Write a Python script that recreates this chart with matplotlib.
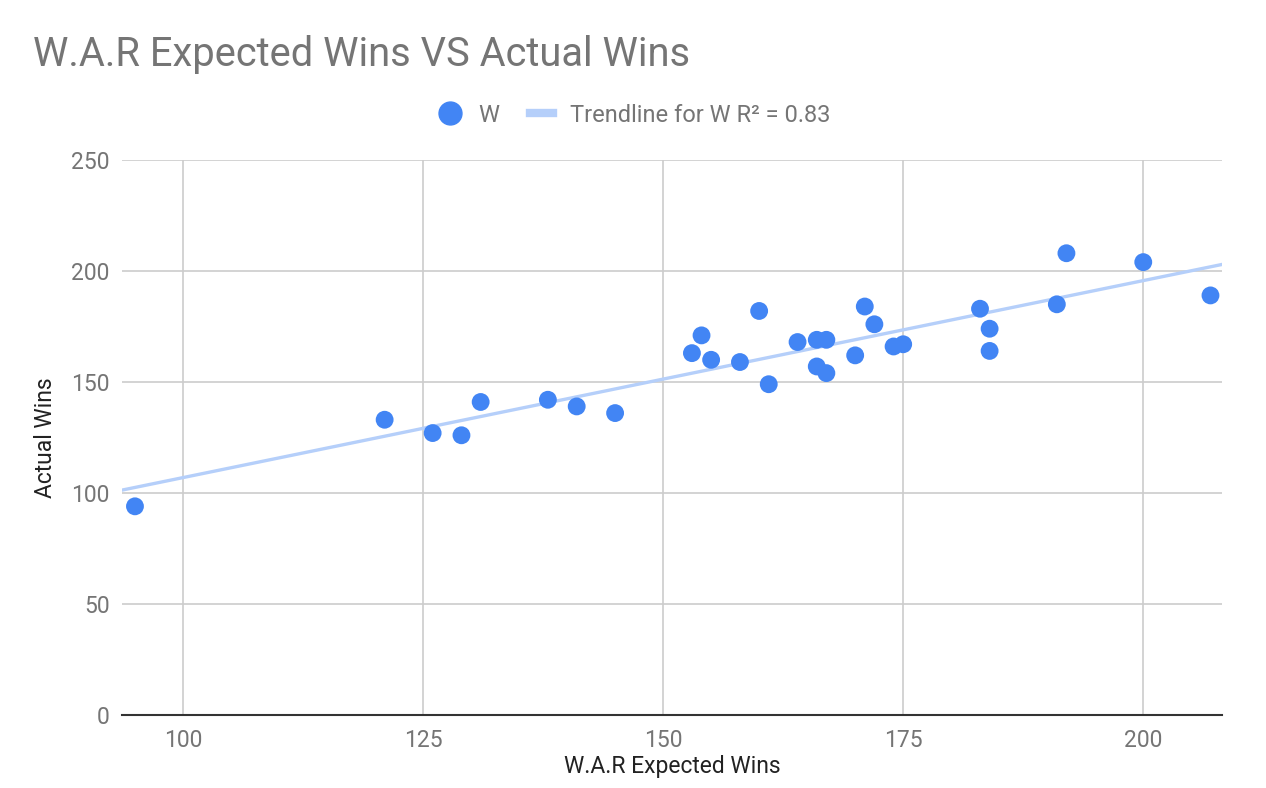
import numpy as np
import matplotlib as mpl
mpl.use("Agg")
import matplotlib.pyplot as plt
from matplotlib.lines import Line2D

plt.rcParams['font.family'] = ['Roboto', 'DejaVu Sans']

# W.A.R expected wins vs actual wins
war_wins = [95, 121, 126, 129, 131, 138, 141, 145, 153, 154, 155, 158, 160, 161,
            164, 166, 166, 167, 167, 170, 171, 172, 174, 175, 183, 184, 184, 191,
            192, 200, 207]
actual_wins = [94, 133, 127, 126, 141, 142, 139, 136, 163, 171, 160, 159, 182, 149,
               168, 169, 157, 169, 154, 162, 184, 176, 166, 167, 183, 174, 164, 185,
               208, 204, 189]

x = np.array(war_wins, dtype=float)
y = np.array(actual_wins, dtype=float)
slope, icpt = np.polyfit(x, y, 1)
r2 = np.corrcoef(x, y)[0, 1] ** 2

fig = plt.figure(figsize=(12.66, 7.88), dpi=100)
ax = fig.add_axes([122 / 1266, 73 / 788, 1100 / 1266, 555 / 788])

xmin, xmax = 93.65, 208.2
xs = np.array([xmin, xmax])
ax.plot(xs, slope * xs + icpt, color='#b5cffa', lw=2.4, zorder=2)
ax.scatter(x, y, s=165, color='#4285f4', edgecolors='none', zorder=3)

ax.set_xlim(xmin, xmax)
ax.set_ylim(0, 250)
ax.set_xticks([100, 125, 150, 175, 200])
ax.set_yticks([0, 50, 100, 150, 200, 250])
ax.grid(True, color='#cccccc', lw=1.2)
ax.set_axisbelow(True)
for s in ['top', 'right', 'left']:
    ax.spines[s].set_visible(False)
ax.spines['bottom'].set_color('#333333')
ax.spines['bottom'].set_linewidth(1.5)
ax.tick_params(length=0, labelsize=16.5, colors='#757575')
ax.tick_params(axis='x', pad=10)
ax.tick_params(axis='y', pad=9)

ax.set_xlabel('W.A.R Expected Wins', fontsize=16.5, color='#222222', labelpad=2)
ax.set_ylabel('Actual Wins', fontsize=16.5, color='#222222', labelpad=10)

fig.text(33 / 1266, 1 - 55 / 788, 'W.A.R Expected Wins VS Actual Wins',
         fontsize=28.7, color='#757575', va='center', ha='left')

handles = [
    Line2D([], [], marker='o', ls='none', color='#4285f4', markersize=16.5),
    Line2D([], [], color='#b5cffa', lw=6),
]
labels = ['W', 'Trendline for W R² = %.2f' % r2]
fig.legend(handles, labels, loc='center', bbox_to_anchor=(634 / 1266, 1 - 115 / 788),
           ncol=2, frameon=False, fontsize=17, labelcolor='#757575',
           handlelength=1.0, columnspacing=1.3, handletextpad=0.7)

fig.savefig('out.png', dpi=100)
plt.close()
